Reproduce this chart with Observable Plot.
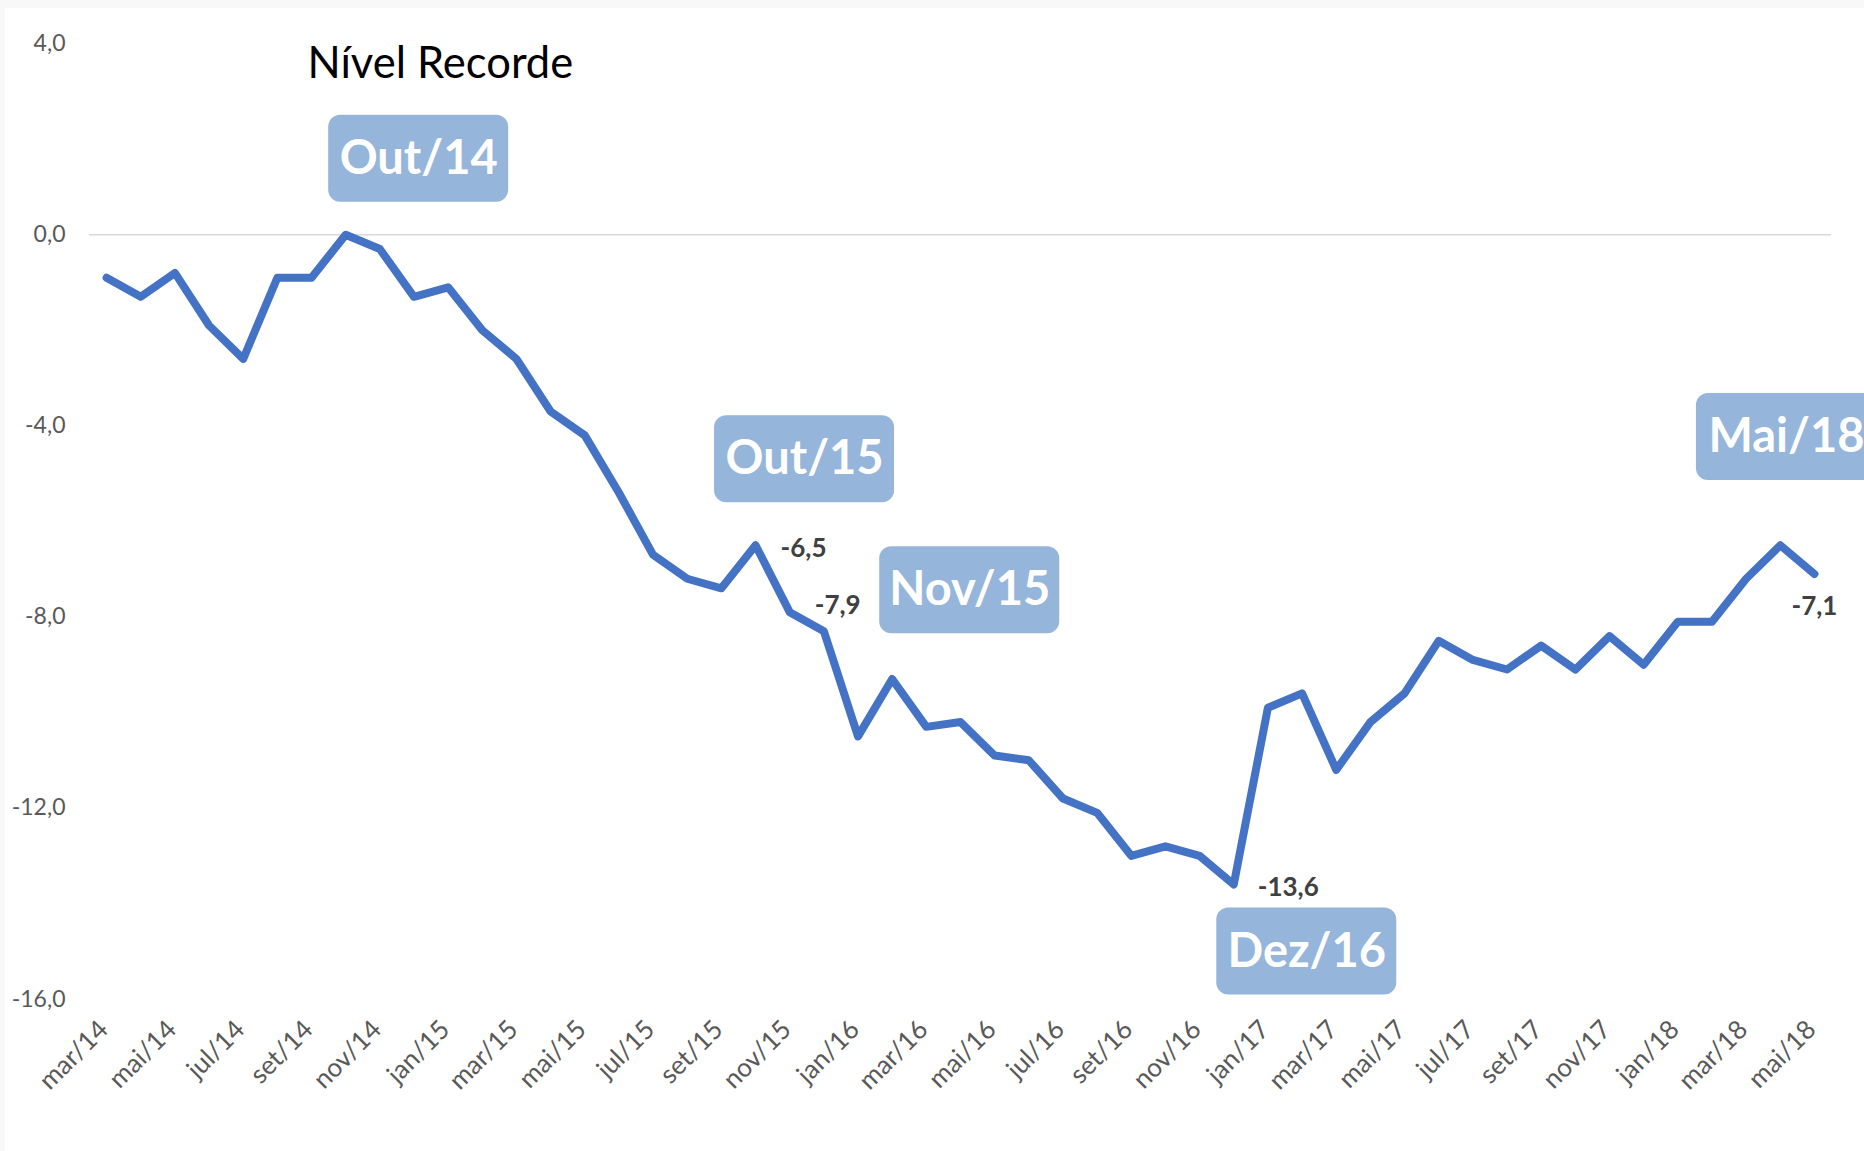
<!DOCTYPE html>
<html><head><meta charset="utf-8">
<script src="https://cdn.jsdelivr.net/npm/d3@7"></script>
<script src="https://cdn.jsdelivr.net/npm/@observablehq/plot@0.6"></script>
<style>
html,body{margin:0;padding:0;background:#f8f8f8;width:1864px;height:1151px;overflow:hidden;}
#panel{position:absolute;left:5px;top:8px;width:1859px;height:1143px;background:#fff;}
#chart{position:absolute;left:0;top:0;}
</style></head><body>
<div id="panel"></div><div id="chart"></div>
<script>
const months = ["mar/14","abr/14","mai/14","jun/14","jul/14","ago/14","set/14","out/14","nov/14","dez/14",
  "jan/15","fev/15","mar/15","abr/15","mai/15","jun/15","jul/15","ago/15","set/15","out/15","nov/15","dez/15",
  "jan/16","fev/16","mar/16","abr/16","mai/16","jun/16","jul/16","ago/16","set/16","out/16","nov/16","dez/16",
  "jan/17","fev/17","mar/17","abr/17","mai/17","jun/17","jul/17","ago/17","set/17","out/17","nov/17","dez/17",
  "jan/18","fev/18","mar/18","abr/18","mai/18"];
const values = [-0.9,-1.3,-0.8,-1.9,-2.6,-0.9,-0.9,0.0,-0.3,-1.3,
  -1.1,-2.0,-2.6,-3.7,-4.2,-5.4,-6.7,-7.2,-7.4,-6.5,-7.9,-8.3,
  -10.5,-9.3,-10.3,-10.2,-10.9,-11.0,-11.8,-12.1,-13.0,-12.8,-13.0,-13.6,
  -9.9,-9.6,-11.2,-10.2,-9.6,-8.5,-8.9,-9.1,-8.6,-9.1,-8.4,-9.0,
  -8.1,-8.1,-7.2,-6.5,-7.1];
const yTicks = [-16,-12,-8,-4,0,4];
const xTickLabels = months.filter((m,i)=>i%2===0);
const calloutTexts = ["Out/14","Out/15","Nov/15","Dez/16","Mai/18"];
const calloutMonths = ["out/14","out/15","nov/15","dez/16","mai/18"];
const labelMonths = ["out/15","nov/15","dez/16","mai/18"];
const title = "Nível Recorde";

const fmt = v => v.toFixed(1).replace(".", ",");
const data = values.map((v,i)=>({i, v, m: months[i]}));
const byMonth = m => data[months.indexOf(m)];

// pixel offsets (styling) of callout boxes and value labels relative to their month point
const calloutOffsets = [[73,-76],[49,-86],[180,-22],[73,67],[-28,-137]];
const labelOffsets = [[25,3,"start"],[25,-7,"start"],[24,3,"start"],[0,33,"middle"]];

const boxColor = "#95b5db";
const marks = [
  Plot.ruleY([0], {stroke:"#d9d9d9", strokeWidth:1.5}),
  Plot.text(yTicks, {y:d=>d, text:d=>fmt(d), frameAnchor:"left", dx:-24, textAnchor:"end",
    fontSize:23, fill:"#595959"}),
  Plot.text(xTickLabels, {x:d=>months.indexOf(d), text:d=>d, frameAnchor:"bottom", rotate:-45,
    textAnchor:"end", dx:3, dy:32, fontSize:26, fill:"#595959"}),
  Plot.line(data, {x:"i", y:"v", stroke:"#4472c4", strokeWidth:8, strokeLinejoin:"round", strokeLinecap:"round"}),
  Plot.text([title], {frameAnchor:"top-left", dx:218, dy:34, lineAnchor:"bottom", textAnchor:"start",
    fontSize:43.5, fill:"#000"})
];
calloutTexts.forEach((t,k)=>{
  const d = byMonth(calloutMonths[k]);
  const [dx,dy] = calloutOffsets[k];
  marks.push(Plot.rect([d], {x1:"i", x2:"i", y1:"v", y2:"v", dx, dy,
    insetLeft:-90, insetRight:-90, insetTop:-43.5, insetBottom:-43.5, rx:12, fill:boxColor}));
  marks.push(Plot.text([d], {x:"i", y:"v", text:()=>t, dx, dy, fill:"#fff", fontWeight:"bold",
    fontSize:47, lineAnchor:"middle", textAnchor:"middle"}));
});
labelMonths.forEach((m,k)=>{
  const d = byMonth(m);
  const [dx,dy,anchor] = labelOffsets[k];
  marks.push(Plot.text([d], {x:"i", y:"v", text:dd=>fmt(dd.v), dx, dy, textAnchor:anchor,
    fill:"#404040", fontWeight:"bold", fontSize:26}));
});

const chart = Plot.plot({
  width:1864, height:1151,
  marginLeft:89, marginRight:33, marginTop:43.1, marginBottom:152.3,
  x:{domain:[-0.5, 50.5], axis:null},
  y:{domain:[-16, 4], axis:null},
  style:{background:"transparent", fontFamily:"Lato, 'Open Sans', sans-serif", overflow:"visible"},
  marks
});
document.getElementById("chart").appendChild(chart);
</script>
</body></html>
